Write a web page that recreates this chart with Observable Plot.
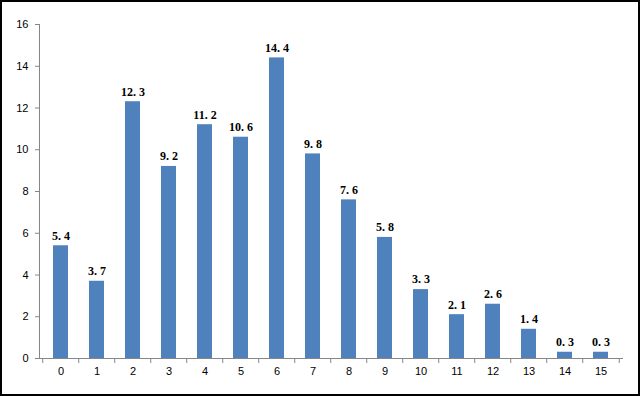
<!DOCTYPE html>
<html>
<head>
<meta charset="utf-8">
<script src="https://cdn.jsdelivr.net/npm/d3@7"></script>
<script src="https://cdn.jsdelivr.net/npm/@observablehq/plot@0.6"></script>
<style>
  html, body { margin: 0; padding: 0; background: #fff; }
  #wrap { position: relative; width: 640px; height: 396px; }
  #border { position: absolute; left: 0; top: 0; width: 640px; height: 396px; box-sizing: border-box; border: 2px solid #000; pointer-events: none; }
</style>
</head>
<body>
<div id="wrap"><div id="border"></div></div>
<script>
const categories = ["0","1","2","3","4","5","6","7","8","9","10","11","12","13","14","15"];
const values = [5.4, 3.7, 12.3, 9.2, 11.2, 10.6, 14.4, 9.8, 7.6, 5.8, 3.3, 2.1, 2.6, 1.4, 0.3, 0.3];
const yTicks = [0, 2, 4, 6, 8, 10, 12, 14, 16];

const data = categories.map((c, i) => ({cat: c, value: values[i]}));
const step = (640 - 39 - 17) / categories.length;

const chart = Plot.plot({
  width: 640,
  height: 396,
  marginLeft: 39,
  marginRight: 17,
  marginTop: 24,
  marginBottom: 38,
  style: {background: "transparent", fontFamily: "'Liberation Sans', sans-serif", fontSize: "11px", color: "#000"},
  x: {type: "band", domain: categories, paddingInner: 0.575, paddingOuter: 0.2875, label: null},
  y: {domain: [0, 16], label: null},
  marks: [
    Plot.barY(data, {x: "cat", y: "value", fill: "#4F81BD"}),
    Plot.text(data, {x: "cat", y: "value", text: d => d.value.toFixed(1).replace(".", ". "), dy: -10, fontWeight: "bold", fontSize: 12, fontFamily: "'Liberation Serif', serif", fill: "#000"}),
    Plot.ruleY([0], {stroke: "#868686"}),
    Plot.frame({anchor: "left", stroke: "#868686"}),
    Plot.ruleX(categories, {x: d => d, y1: 0, y2: 0, insetTop: 5, dx: -step / 2, stroke: "#868686"}),
    Plot.ruleX([categories[categories.length - 1]], {x: d => d, y1: 0, y2: 0, insetTop: 5, dx: step / 2, stroke: "#868686"}),
    Plot.axisY({ticks: yTicks, tickSize: 4, tickPadding: 7, stroke: "#868686", fill: "#000", label: null}),
    Plot.axisX({tickSize: 0, tickPadding: 9, fill: "#000", label: null})
  ]
});
document.getElementById("wrap").prepend(chart);
</script>
</body>
</html>
